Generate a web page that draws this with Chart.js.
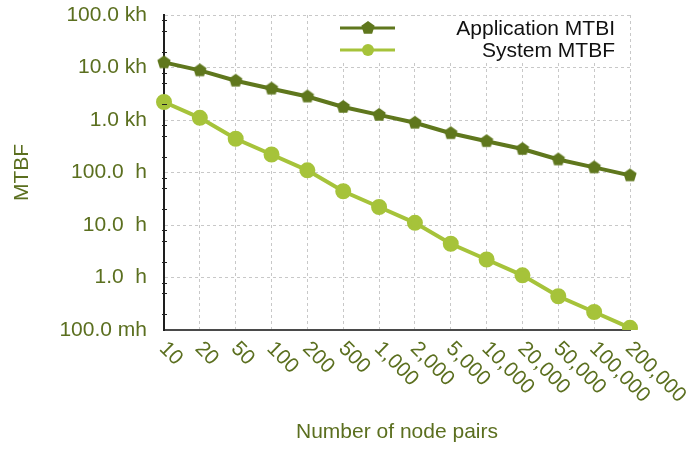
<!DOCTYPE html>
<html>
<head>
<meta charset="utf-8">
<script src="https://cdn.jsdelivr.net/npm/chart.js@4.4.0/dist/chart.umd.min.js"></script>
<style>
  html, body { margin: 0; padding: 0; background: #fff; }
  canvas { display: block; }
</style>
</head>
<body>
<canvas id="mtbfChart" width="686" height="451"></canvas>
<script>
// data (hours)
const nodePairs = ['10', '20', '50', '100', '200', '500', '1,000', '2,000', '5,000', '10,000', '20,000', '50,000', '100,000', '200,000'];
const applicationMtbi = [12500, 8800, 5600, 3950, 2800, 1770, 1250, 885, 560, 395, 280, 177, 125, 88];
const systemMtbf = [2200, 1100, 440, 220, 110, 44, 22, 11, 4.4, 2.2, 1.1, 0.44, 0.22, 0.11];
const yTickValues = [0.1, 1, 10, 100, 1000, 10000, 100000];
const yTickLabels = ['100.0 mh', '1.0  h', '10.0  h', '100.0  h', '1.0 kh', '10.0 kh', '100.0 kh'];
const minorSteps = [2, 5, 8];

const appColor = '#5f771d';
const sysColor = '#a6c33a';
const textColor = '#5b6f1f';
const fontFamily = '"Liberation Sans", Arial, sans-serif';
const fontSize = 21;

// pentagon marker for the application series
function makePentagon(color, r) {
    const c = document.createElement('canvas');
    c.width = c.height = 2 * r + 2;
    const g = c.getContext('2d');
    g.fillStyle = color;
    g.beginPath();
    for (let k = 0; k < 5; k++) {
        const a = -Math.PI / 2 + k * 2 * Math.PI / 5;
        const px = r + 1 + r * Math.cos(a);
        const py = r + 1 + r * Math.sin(a);
        if (k === 0) g.moveTo(px, py); else g.lineTo(px, py);
    }
    g.closePath();
    g.fill();
    return c;
}
const pentagon = makePentagon(appColor, 7);

const extras = {
    id: 'extras',
    beforeDatasetsDraw(chart) {
        const ctx = chart.ctx;
        // legend box, drawn over the grid
        ctx.save();
        ctx.fillStyle = '#fff';
        ctx.fillRect(309, 16, 320, 46);
        const items = [
            { label: 'Application MTBI', color: appColor, y: 28, pent: true },
            { label: 'System MTBF', color: sysColor, y: 50, pent: false }
        ];
        ctx.font = fontSize + 'px ' + fontFamily;
        ctx.textAlign = 'right';
        ctx.textBaseline = 'middle';
        items.forEach(it => {
            ctx.strokeStyle = it.color;
            ctx.lineWidth = 3;
            ctx.beginPath();
            ctx.moveTo(340, it.y);
            ctx.lineTo(395, it.y);
            ctx.stroke();
            if (it.pent) {
                ctx.drawImage(pentagon, 368 - pentagon.width / 2, it.y - pentagon.height / 2);
            } else {
                ctx.fillStyle = it.color;
                ctx.beginPath();
                ctx.arc(368, it.y, 6, 0, Math.PI * 2);
                ctx.fill();
            }
            ctx.fillStyle = '#111';
            ctx.fillText(it.label, 615, it.y + 1);
        });
        ctx.restore();
    },
    afterDraw(chart) {
        const ctx = chart.ctx;
        const xs = chart.scales.x;
        const ys = chart.scales.y;
        ctx.save();
        // minor ticks on the value axis
        ctx.strokeStyle = '#222';
        ctx.lineWidth = 1;
        yTickValues.slice(0, -1).forEach(d => {
            minorSteps.forEach(m => {
                const py = Math.round(ys.getPixelForValue(d * m)) + 0.5;
                ctx.beginPath();
                ctx.moveTo(xs.left - 2, py);
                ctx.lineTo(xs.left + 3, py);
                ctx.stroke();
            });
        });
        // slanted category labels
        ctx.font = fontSize + 'px ' + fontFamily;
        ctx.fillStyle = textColor;
        ctx.textAlign = 'left';
        ctx.textBaseline = 'top';
        nodePairs.forEach((lab, i) => {
            const px = xs.getPixelForValue(i);
            ctx.save();
            ctx.translate(px + 6, ys.bottom + 8);
            ctx.rotate(Math.PI / 4);
            ctx.fillText(lab, 0, 0);
            ctx.restore();
        });
        ctx.restore();
    }
};

const ctx = document.getElementById('mtbfChart').getContext('2d');
const mtbfChart = new Chart(ctx, {
    type: 'line',
    data: {
        labels: nodePairs,
        datasets: [
            {
                label: 'Application MTBI',
                data: applicationMtbi,
                borderColor: appColor,
                backgroundColor: appColor,
                borderWidth: 4,
                pointStyle: pentagon,
                tension: 0
            },
            {
                label: 'System MTBF',
                data: systemMtbf,
                borderColor: sysColor,
                backgroundColor: sysColor,
                borderWidth: 4,
                pointRadius: 6,
                pointHoverRadius: 6,
                tension: 0
            }
        ]
    },
    options: {
        responsive: false,
        animation: false,
        layout: { padding: { top: 15, right: 56, left: 0, bottom: 0 } },
        plugins: {
            legend: { display: false },
            tooltip: { enabled: false }
        },
        scales: {
            x: {
                type: 'category',
                offset: false,
                afterFit: s => { s.height = 121; s.paddingLeft = 0; s.paddingRight = 0; },
                grid: {
                    color: '#c8c8c8',
                    drawTicks: false
                },
                border: { color: '#4a4a4a', width: 2, dash: [3, 3] },
                ticks: { display: false },
                title: {
                    display: true,
                    text: 'Number of node pairs',
                    color: textColor,
                    font: { family: fontFamily, size: fontSize },
                    padding: { top: 0, bottom: 6 }
                }
            },
            y: {
                type: 'logarithmic',
                min: 0.1,
                max: 100000,
                afterFit: s => { s.width = 164; s.paddingTop = 0; s.paddingBottom = 0; },
                afterBuildTicks: s => { s.ticks = yTickValues.map(v => ({ value: v })); },
                grid: {
                    color: '#c8c8c8',
                    drawTicks: false
                },
                border: { color: '#1e1e1e', width: 2, dash: [3, 3] },
                ticks: {
                    color: textColor,
                    font: { family: fontFamily, size: fontSize },
                    padding: 17,
                    callback: v => {
                        const i = yTickValues.indexOf(v);
                        return i >= 0 ? yTickLabels[i] : '';
                    }
                },
                title: {
                    display: true,
                    text: 'MTBF',
                    color: textColor,
                    font: { family: fontFamily, size: fontSize },
                    padding: { top: 10, bottom: 0 }
                }
            }
        }
    },
    plugins: [extras]
});
</script>
</body>
</html>
